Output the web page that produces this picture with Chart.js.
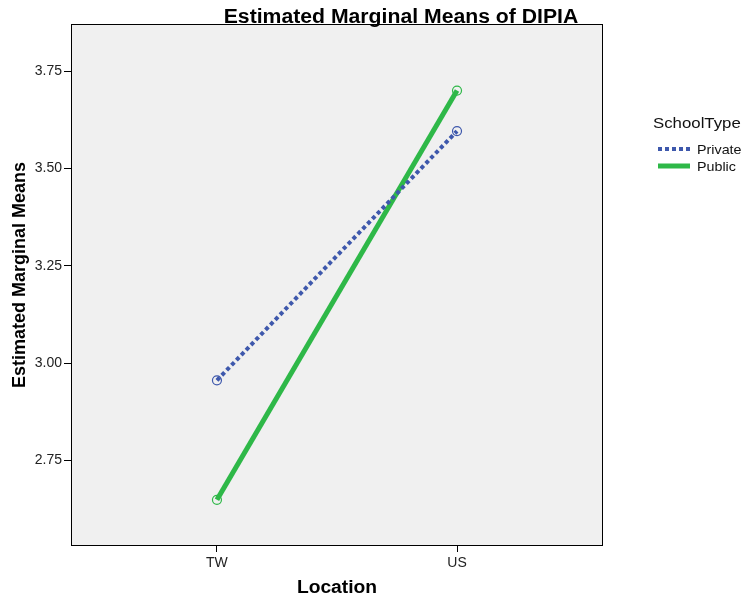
<!DOCTYPE html>
<html>
<head>
<meta charset="utf-8">
<script src="https://cdn.jsdelivr.net/npm/chart.js@4.4.1/dist/chart.umd.min.js"></script>
<style>
  html, body { margin: 0; padding: 0; background: #fff; }
  #wrap { width: 748px; height: 600px; }
</style>
</head>
<body>
<div id="wrap"><canvas id="chart" width="748" height="600"></canvas></div>
<script>
// data
const locations = ['TW', 'US'];
const privateMeans = [2.956, 3.596];
const publicMeans = [2.649, 3.700];
const yTicks = [2.75, 3.00, 3.25, 3.50, 3.75];

const chartTitle = 'Estimated Marginal Means of DIPIA';
const xTitle = 'Location';
const yTitle = 'Estimated Marginal Means';
const legendTitle = 'SchoolType';

const FONT = '"Liberation Sans", Arial, sans-serif';

function toPoints(vals) {
    return vals.map((v, i) => ({ x: i, y: v }));
}

// draws the grey plot area, frame, titles and legend
const spssLook = {
    id: 'spssLook',
    beforeDraw(chart) {
        const { ctx, chartArea: a } = chart;
        ctx.save();
        ctx.fillStyle = '#f0f0f0';
        ctx.fillRect(a.left, a.top, a.right - a.left, a.bottom - a.top);
        ctx.restore();
    },
    afterDraw(chart) {
        const { ctx, chartArea: a } = chart;
        ctx.save();
        ctx.strokeStyle = '#000';
        ctx.lineWidth = 1;
        ctx.strokeRect(a.left + 0.5, a.top + 0.5, a.right - a.left, a.bottom - a.top);

        ctx.fillStyle = '#000';
        ctx.textBaseline = 'alphabetic';
        ctx.textAlign = 'center';

        // main title
        ctx.save();
        ctx.translate(401, 23);
        ctx.scale(1.06, 1);
        ctx.font = 'bold 20px ' + FONT;
        ctx.fillText(chartTitle, 0, 0);
        ctx.restore();

        // x title
        ctx.save();
        ctx.translate(337, 593);
        ctx.scale(1.07, 1);
        ctx.font = 'bold 18px ' + FONT;
        ctx.fillText(xTitle, 0, 0);
        ctx.restore();

        // y title
        ctx.save();
        ctx.translate(25, 275);
        ctx.rotate(-Math.PI / 2);
        ctx.font = 'bold 18px ' + FONT;
        ctx.fillText(yTitle, 0, 0);
        ctx.restore();

        // legend
        ctx.textAlign = 'left';
        ctx.save();
        ctx.translate(653, 128);
        ctx.scale(1.12, 1);
        ctx.font = '15px ' + FONT;
        ctx.fillStyle = '#111';
        ctx.fillText(legendTitle, 0, 0);
        ctx.restore();

        chart.data.datasets.forEach((ds, i) => {
            const y = 149 + i * 17;
            ctx.save();
            ctx.strokeStyle = ds.borderColor;
            ctx.lineWidth = ds.borderWidth;
            ctx.setLineDash(ds.borderDash || []);
            ctx.beginPath();
            ctx.moveTo(658, y);
            ctx.lineTo(690, y);
            ctx.stroke();
            ctx.restore();

            ctx.save();
            ctx.translate(697, y + 4.5);
            ctx.scale(1.1, 1);
            ctx.font = '13px ' + FONT;
            ctx.fillStyle = '#111';
            ctx.fillText(ds.label, 0, 0);
            ctx.restore();
        });
        ctx.restore();
    }
};

new Chart(document.getElementById('chart'), {
    type: 'line',
    data: {
        datasets: [
            {
                label: 'Private',
                data: toPoints(privateMeans),
                borderColor: '#3e58ac',
                borderWidth: 4,
                borderDash: [4, 3],
                pointRadius: 4.5,
                pointBorderWidth: 1.2,
                pointBorderColor: '#3e58ac',
                pointBackgroundColor: 'rgba(0,0,0,0)',
                tension: 0
            },
            {
                label: 'Public',
                data: toPoints(publicMeans),
                borderColor: '#2eb848',
                borderWidth: 5,
                pointRadius: 4.5,
                pointBorderWidth: 1.2,
                pointBorderColor: '#2eb848',
                pointBackgroundColor: 'rgba(0,0,0,0)',
                tension: 0
            }
        ]
    },
    options: {
        responsive: false,
        animation: false,
        layout: { padding: { top: 24, right: 146, left: 0, bottom: 0 } },
        plugins: {
            legend: { display: false },
            tooltip: { enabled: false },
            title: { display: false }
        },
        scales: {
            x: {
                type: 'linear',
                min: -0.608,
                max: 1.604,
                afterBuildTicks(scale) {
                    scale.ticks = locations.map((_, i) => ({ value: i }));
                },
                afterFit(scale) { scale.height = 55; },
                grid: { drawOnChartArea: false, drawTicks: true, tickLength: 7, color: '#000' },
                border: { color: '#000', width: 1 },
                ticks: {
                    padding: 3,
                    color: '#222',
                    font: { family: FONT, size: 14 },
                    callback: (v) => locations[v]
                }
            },
            y: {
                min: 2.533,
                max: 3.871,
                afterBuildTicks(scale) {
                    scale.ticks = yTicks.map(v => ({ value: v }));
                },
                afterFit(scale) { scale.width = 71; },
                grid: { drawOnChartArea: false, drawTicks: true, tickLength: 7, color: '#000' },
                border: { color: '#000', width: 1 },
                ticks: {
                    padding: 2,
                    color: '#222',
                    font: { family: FONT, size: 14 },
                    callback: (v) => v.toFixed(2)
                }
            }
        }
    },
    plugins: [spssLook]
});
</script>
</body>
</html>
